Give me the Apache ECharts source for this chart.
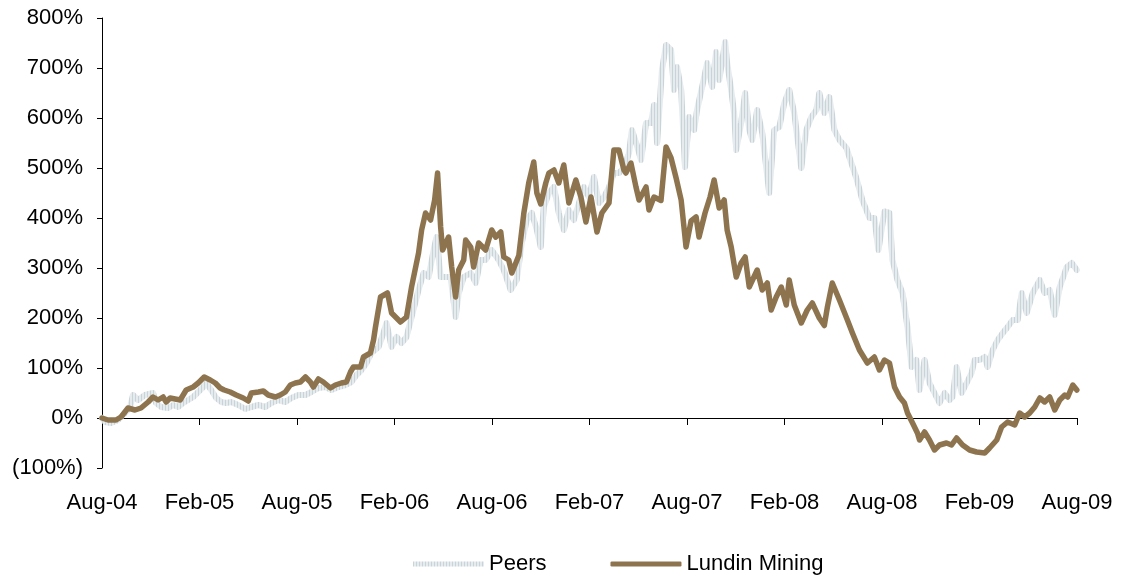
<!DOCTYPE html>
<html>
<head>
<meta charset="utf-8">
<script src="https://cdn.jsdelivr.net/npm/echarts@6/dist/echarts.min.js"></script>
<style>
html,body{margin:0;padding:0;background:#fff;}
#chart{width:1123px;height:576px;}
</style>
</head>
<body>
<div id="chart"></div>
<script>
// Tick labels (every 6 months from Aug-04)
const tickLabels = ['Aug-04','Feb-05','Aug-05','Feb-06','Aug-06','Feb-07','Aug-07','Feb-08','Aug-08','Feb-09','Aug-09'];

// Lundin Mining: months since Aug-04, return (%)
const lundinMonths = [0,0.37,0.86,1.17,1.60,2.03,2.40,2.84,3.14,3.45,3.76,3.95,4.19,4.50,4.81,5.18,5.61,5.92,6.29,6.66,6.97,7.27,7.52,7.89,8.26,8.69,9.00,9.19,9.62,9.93,10.23,10.67,10.97,11.28,11.59,11.90,12.21,12.52,12.82,13.01,13.32,13.62,14.06,14.36,14.73,15.04,15.29,15.47,15.91,16.09,16.52,16.71,16.83,17.14,17.57,17.82,18.37,18.74,19.05,19.48,19.67,19.91,20.22,20.47,20.65,20.84,20.96,21.33,21.52,21.76,21.95,22.26,22.38,22.69,22.87,23.18,23.61,23.98,24.23,24.54,24.72,25.03,25.22,25.65,25.96,26.26,26.57,26.76,27.00,27.31,27.50,27.81,28.11,28.42,28.73,29.16,29.47,29.78,30.09,30.46,30.76,31.20,31.50,31.81,32.12,32.24,32.55,32.86,33.05,33.48,33.66,33.97,34.09,34.40,34.71,35.02,35.33,35.64,35.94,36.25,36.56,36.74,37.11,37.42,37.67,37.98,38.29,38.47,38.72,39.03,39.33,39.58,39.83,40.32,40.63,40.94,41.18,41.49,41.80,42.11,42.29,42.60,43.03,43.40,43.71,44.14,44.45,44.64,44.94,45.38,45.87,46.18,46.61,47.10,47.53,47.84,48.15,48.46,48.77,49.08,49.38,49.57,49.88,50.18,50.31,50.62,50.92,51.23,51.54,51.97,52.28,52.59,52.96,53.39,53.82,54.32,54.62,55.06,55.36,55.73,56.17,56.47,56.78,57.09,57.40,57.71,58.01,58.32,58.63,58.94,59.25,59.43,59.74,59.99];
const lundinValues = [0,-4,-4,2,20,16,20,32,42,36,42,32,40,38,36,56,62,70,82,76,70,60,56,52,46,40,34,50,52,54,46,42,46,52,66,70,72,82,72,62,78,72,60,66,70,72,92,102,102,122,130,156,182,242,250,210,192,202,262,330,376,410,396,436,490,382,336,362,302,242,296,316,356,342,302,350,336,376,362,372,322,316,290,325,410,470,512,450,428,470,490,496,470,506,430,476,442,392,442,372,410,430,536,536,496,490,510,462,436,462,416,442,442,435,542,520,480,436,342,394,402,362,410,442,476,420,436,376,342,282,310,322,262,296,256,270,216,242,262,226,276,226,190,216,230,200,185,222,270,236,196,170,136,110,122,96,116,110,62,42,30,10,-10,-30,-44,-28,-44,-64,-54,-50,-54,-40,-54,-64,-68,-70,-60,-44,-18,-8,-14,10,2,10,22,40,32,42,16,36,46,42,66,56];

// Peers: months since Aug-04, return (%)
const peersMonths = [0,0.18,0.55,0.99,1.42,1.73,1.91,2.22,2.65,3.14,3.33,3.64,4.07,4.38,4.69,4.99,5.30,5.61,5.92,6.23,6.41,6.72,7.03,7.34,7.64,7.95,8.38,8.82,9.19,9.62,10.05,10.42,10.85,11.28,11.65,12.08,12.52,12.89,13.32,13.75,14.12,14.55,14.98,15.35,15.66,15.97,16.28,16.58,17.02,17.32,17.51,17.82,18.13,18.43,18.74,19.05,19.48,19.79,20.10,20.41,20.59,20.84,21.15,21.45,21.76,21.95,22.26,22.69,23.00,23.30,23.61,23.98,24.41,24.72,25.15,25.52,25.83,26.14,26.45,26.76,27.00,27.19,27.50,27.81,28.11,28.42,28.73,29.04,29.35,29.66,29.96,30.27,30.58,30.89,31.20,31.50,31.81,32.12,32.24,32.43,32.61,32.92,33.17,33.48,33.79,33.97,34.16,34.46,34.71,35.02,35.20,35.39,35.64,35.88,36.13,36.44,36.62,36.93,37.24,37.55,37.79,37.98,38.35,38.47,38.72,38.90,39.03,39.33,39.58,39.83,40.01,40.32,40.63,41.06,41.37,41.68,41.99,42.29,42.60,43.03,43.34,43.65,43.96,44.14,44.45,44.76,45.07,45.38,45.81,45.99,46.42,46.79,47.23,47.53,47.78,48.15,48.46,48.64,48.95,49.26,49.57,49.82,50.12,50.31,50.62,50.92,51.23,51.54,51.85,52.16,52.34,52.59,52.90,53.21,53.51,53.70,54.01,54.32,54.50,54.81,55.12,55.43,55.73,56.04,56.35,56.60,56.91,57.28,57.71,58.01,58.32,58.63,58.94,59.37,59.68,59.99];
const peersValues = [0,-8,-10,-4,10,22,46,36,46,50,30,22,20,26,22,30,36,42,52,62,70,56,40,32,30,32,26,18,22,26,22,30,36,32,40,46,46,52,60,62,56,62,66,72,86,96,110,130,142,170,190,142,162,150,162,202,256,290,282,336,362,282,282,282,202,250,282,290,270,316,316,336,316,296,256,276,350,396,410,376,342,422,450,462,410,376,416,396,430,462,442,482,430,442,462,490,490,500,510,530,576,545,516,590,590,626,550,696,746,736,656,702,656,502,602,576,616,662,710,662,732,676,752,710,656,610,536,590,650,576,556,616,570,450,576,582,630,656,610,500,576,602,616,650,610,642,576,556,540,522,480,436,400,400,336,413,410,316,276,250,182,102,116,56,116,70,50,30,50,36,42,102,50,70,90,116,116,122,102,136,156,170,182,196,196,250,210,250,276,250,256,206,262,302,310,296];

function pairs(xs, ys){ return xs.map((x,i)=>[x, ys[i]]); }

// striped texture for the Peers line
const pat = document.createElement('canvas');
pat.width = 3; pat.height = 3;
const pctx = pat.getContext('2d');
pctx.fillStyle = '#e6ebee'; pctx.fillRect(0,0,3,3);
pctx.fillStyle = '#c9d3da'; pctx.fillRect(0,0,1,3);

const chart = echarts.init(document.getElementById('chart'), null, {renderer:'canvas'});
const FONT = 'Liberation Sans, Arial, sans-serif';
chart.setOption({
  animation: false,
  backgroundColor: '#ffffff',
  textStyle: {fontFamily: FONT},
  grid: {left: 102, right: 46, top: 18, bottom: 108, containLabel: false},
  legend: {
    left: 408, top: 548,
    itemWidth: 71, itemHeight: 5, itemGap: 64,
    textStyle: {fontSize: 22, color: '#000', fontFamily: FONT},
    data: [
      {name: 'Peers', icon: 'rect', itemStyle: {color: {image: pat, repeat: 'repeat'}}},
      {name: 'Lundin Mining', icon: 'roundRect', itemStyle: {color: '#8e744e'}}
    ]
  },
  xAxis: [
    {
      type: 'value', min: 0, max: 60, interval: 6,
      axisLine: {onZero: true, lineStyle: {color: '#000', width: 1}},
      axisTick: {show: true, inside: false, length: 7, lineStyle: {color: '#000'}},
      axisLabel: {show: false},
      splitLine: {show: false}
    },
    {
      type: 'value', min: 0, max: 60, interval: 6, position: 'bottom',
      axisLine: {show: false, onZero: false},
      axisTick: {show: false},
      axisLabel: {
        show: true, margin: 24, fontSize: 22, color: '#000', fontFamily: FONT,
        formatter: v => tickLabels[Math.round(v/6)] || ''
      },
      splitLine: {show: false}
    }
  ],
  yAxis: {
    type: 'value', min: -100, max: 800, interval: 100,
    axisLine: {show: true, lineStyle: {color: '#000', width: 1}},
    axisTick: {show: true, length: 5, lineStyle: {color: '#000'}},
    axisLabel: {
      fontSize: 22, color: '#000', margin: 19, fontFamily: FONT,
      formatter: v => v < 0 ? '(' + (-v) + '%)' : v + '%'
    },
    splitLine: {show: false}
  },
  series: [
    {
      name: 'Peers', type: 'line', xAxisIndex: 0, showSymbol: false, symbol: 'none',
      data: pairs(peersMonths, peersValues),
      itemStyle: {color: '#d9e0e5'},
      lineStyle: {width: 6, color: {image: pat, repeat: 'repeat'}, join: 'round', cap: 'round'},
      z: 2
    },
    {
      name: 'Lundin Mining', type: 'line', xAxisIndex: 0, showSymbol: false, symbol: 'none',
      data: pairs(lundinMonths, lundinValues),
      itemStyle: {color: '#8e744e'},
      lineStyle: {width: 5.5, color: '#8e744e', join: 'round', cap: 'round'},
      z: 3
    }
  ]
});
</script>
</body>
</html>
